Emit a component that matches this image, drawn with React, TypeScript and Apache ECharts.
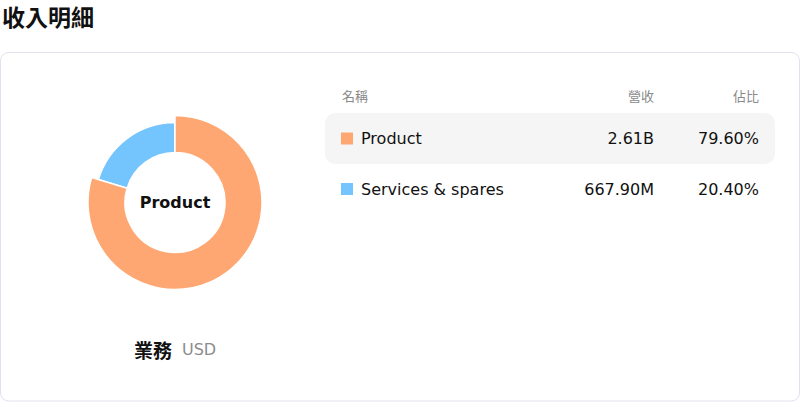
import { useEffect, useRef } from 'react';
import * as echarts from 'echarts';

const title = '收入明細';
const categories = ['Product', 'Services & spares'];
const revenue = [2.61e9, 667.9e6];
const revenueLabels = ['2.61B', '667.90M'];
const shareLabels = ['79.60%', '20.40%'];
const colors = ['#ffa772', '#74c4fe'];
const headers = ['名稱', '營收', '佔比'];
const footerMain = '業務';
const footerUnit = 'USD';

const LATIN = '"DejaVu Sans", "Noto Sans CJK TC", sans-serif';
const CJK = '"Noto Sans CJK TC", "DejaVu Sans", sans-serif';

export default function App() {
  const chartRef = useRef<HTMLDivElement>(null);

  useEffect(() => {
    document.body.style.margin = '0';
    document.body.style.overflow = 'hidden';
    if (!chartRef.current) return;
    const chart = echarts.init(chartRef.current, undefined, { renderer: 'svg' });

    const rowY = [138.5, 189];
    const tableGraphics: any[] = [
      {
        type: 'rect',
        shape: { x: 325, y: 113, width: 450, height: 51, r: 10 },
        style: { fill: '#f5f5f5' },
        z: 1,
      },
      {
        type: 'text',
        x: 342,
        y: 95.5,
        style: { text: headers[0], font: `13px ${CJK}`, fill: '#8a8a8a', textVerticalAlign: 'middle' },
        z: 2,
      },
      {
        type: 'text',
        x: 654,
        y: 95.5,
        style: { text: headers[1], font: `13px ${CJK}`, fill: '#8a8a8a', textAlign: 'right', textVerticalAlign: 'middle' },
        z: 2,
      },
      {
        type: 'text',
        x: 759,
        y: 95.5,
        style: { text: headers[2], font: `13px ${CJK}`, fill: '#8a8a8a', textAlign: 'right', textVerticalAlign: 'middle' },
        z: 2,
      },
    ];

    categories.forEach((name, i) => {
      const y = rowY[i];
      tableGraphics.push(
        {
          type: 'rect',
          shape: { x: 341, y: y - 6, width: 12, height: 12 },
          style: { fill: colors[i] },
          z: 2,
        },
        {
          type: 'text',
          x: 361,
          y,
          style: { text: name, font: `16px ${LATIN}`, fill: '#111', textVerticalAlign: 'middle' },
          z: 2,
        },
        {
          type: 'text',
          x: 654,
          y,
          style: { text: revenueLabels[i], font: `16px ${LATIN}`, fill: '#111', textAlign: 'right', textVerticalAlign: 'middle' },
          z: 2,
        },
        {
          type: 'text',
          x: 759,
          y,
          style: { text: shareLabels[i], font: `16px ${LATIN}`, fill: '#111', textAlign: 'right', textVerticalAlign: 'middle' },
          z: 2,
        }
      );
    });

    const option: echarts.EChartsOption = {
      animation: false,
      backgroundColor: '#fff',
      title: {
        text: title,
        left: 2,
        top: 4,
        padding: 0,
        textStyle: { fontSize: 23, fontWeight: 'bold', color: '#111', fontFamily: CJK },
      },
      graphic: [
        {
          type: 'rect',
          shape: { x: 0.5, y: 52.5, width: 799, height: 348.5, r: 8 },
          style: { fill: '#fff', stroke: '#e3e1ee', lineWidth: 1 },
          z: 0,
        },
        ...tableGraphics,
        {
          type: 'text',
          x: 153,
          y: 349,
          style: { text: footerMain, font: `bold 19px ${CJK}`, fill: '#111', textAlign: 'center', textVerticalAlign: 'middle' },
          z: 2,
        },
        {
          type: 'text',
          x: 182,
          y: 349,
          style: { text: footerUnit, font: `16px ${LATIN}`, fill: '#8c8c8c', textVerticalAlign: 'middle' },
          z: 2,
        },
      ],
      series: [
        {
          type: 'pie',
          center: [175, 202.5],
          radius: [50, 80],
          startAngle: 90,
          clockwise: true,
          z: 3,
          itemStyle: { borderColor: '#fff', borderWidth: 1.5 },
          label: { show: false, position: 'center' },
          labelLine: { show: false },
          emphasis: {
            scale: true,
            scaleSize: 7,
            label: {
              show: true,
              formatter: '{b}',
              fontSize: 16,
              fontWeight: 'bold',
              color: '#111',
              fontFamily: LATIN,
            },
          },
          data: categories.map((name, i) => ({
            name,
            value: revenue[i],
            itemStyle: { color: colors[i] },
            emphasis: { itemStyle: { color: colors[i] } },
          })),
        },
      ],
    };

    chart.setOption(option);
    chart.dispatchAction({ type: 'highlight', seriesIndex: 0, dataIndex: 0 });

    return () => {
      chart.dispose();
    };
  }, []);

  return <div ref={chartRef} style={{ width: 800, height: 402 }} />;
}
